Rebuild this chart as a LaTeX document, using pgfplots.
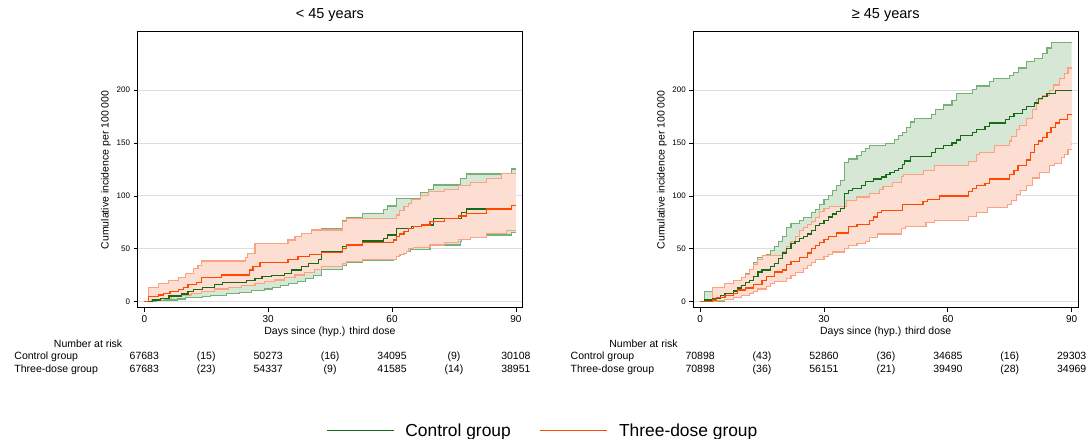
\documentclass[border=0pt]{standalone}
\usepackage{fontspec}
\setmainfont{Liberation Sans}
\usepackage{pgfplots}
\usepackage{pgfplotstable}
\usepgfplotslibrary{fillbetween}
\pgfplotsset{compat=1.18}

\definecolor{gdark}{RGB}{22,108,22}
\definecolor{gci}{RGB}{118,176,118}
\definecolor{gfill}{RGB}{214,231,214}
\definecolor{odark}{RGB}{255,72,0}
\definecolor{oci}{RGB}{250,162,130}
\definecolor{ofill}{RGB}{253,222,210}
\definecolor{gridc}{RGB}{222,222,222}

% ---------- left panel (< 45 years) ----------
\pgfplotstableread{
d v
0 0
2 1.6
4 3.2
6 5.4
9 7.3
10.6 9.5
12 11.7
14 13.5
17 16
19 18
24.8 20
26.8 21.7
28.5 23.5
30.8 25
34 27
35.7 30
38.1 33
39.7 36
42.1 40
43 47
48 52
49 53.6
52.8 57.4
57.9 59.9
58.9 63.1
61 69.4
64.8 71
67.2 72.6
70 78.8
76.9 84.6
78.1 87.7
89 90.8
90 90.8
}\LgE
\pgfplotstableread{
d v
0 0
3 0.8
5 1.6
8 2.5
10 3.5
14 4.8
16 6
20 7.5
23 9
26 10.5
29 12
31 13.5
33 15
35 17
37 19
39 21.5
41 24.5
43 30
48 33.8
49 36.9
52.8 39.4
60.3 41.8
61.1 43.6
62 45.8
63 47.4
64.5 49
69.2 53
70 53.6
76.5 56.8
76.9 58.4
78.9 61
82.9 63.1
89 65.3
90 65.3
}\LgL
\pgfplotstableread{
d v
0 0
2 6
4 10
6 13
8 16
10 19
12 22
14 25
17 29
19 32
25 34
27 36
31 40
34 43
36 46
38 50
40 53
42 57
43 69.4
48 76.9
49 79.8
52.8 83.6
57.9 86.8
58.9 90.5
61 97.8
66.8 103
68.8 105.7
70 110.4
76.5 116.7
78.1 120.8
89 125.5
90 125.5
}\LgU
\pgfplotstableread{
d v
0 0
1 4.8
3.4 6.3
4.6 7.9
6.2 9.5
8.2 11.7
9.4 13.6
10.6 15.9
12.7 18.1
13.9 23.1
18.7 25.2
25.5 30
26.3 33.1
28 37.4
34.8 39.6
37.2 42.6
40 44.5
42.9 46.7
48 50.5
49 53.6
52.8 55.8
60.3 58.4
61.1 61.5
61.9 64
62.9 66.3
63.9 69.4
65.2 71
67.2 72.6
69.2 76
72.8 79
76.1 81
78.1 83.6
82.9 87.7
89 90.8
90 90.8
}\LoE
\pgfplotstableread{
d v
0 0
1.8 1.6
4.2 3.2
6.6 4.8
9 6.3
11.5 7.9
13.9 9.8
17.1 12
20.3 13.6
23.5 15.2
26.8 17.4
29.2 19
31.6 20.5
34 23
36.5 25.2
38.9 27.4
41.3 30
43 33.2
48 36.3
49 37.9
52.8 40.1
61 42.7
61.9 44.2
62.9 45.8
63.5 47.4
64 50.5
65.2 51.5
69.2 53.6
72.8 55.8
76.1 58.4
78.9 61
82.9 64.2
87.7 67.3
90 67.3
}\LoL
\pgfplotstableread{
d v
0 0
1 13.6
3.4 16.8
5.8 19.9
8.2 23
10 27
12 31
13 34
13.9 38.5
24.4 42
25 45.8
26.8 55.2
34.8 58.3
36.5 61.5
38 64.7
40.4 67.8
48 75.7
49 78.8
61.1 82
61.9 86.5
62.9 89.6
63.9 92.7
64.8 97
66.8 100.7
68.8 104
72.8 106.3
76.1 109.7
78.9 112.9
82.9 116.7
86.5 121.5
90 121.5
}\LoU

% ---------- right panel (>= 45 years) ----------
\pgfplotstableread{
d v
0 0
1 1.5
3 3
5 6
6 8
8 10
9 13
10 15
11 18
12 20
13 24
14 28
15 30
17 33
18 36
19 41
20 46
21 50
22 55
23 57
24 60
25 62
26 64
27 67
28 72
29 74
30 77
31 80
32 83
33 85
34 88
35 102
36 105
37 107
39 110
40 114
42 116
44 118
45 120
46 122
47 124
48 126
49 130
49.5 133
51 137
56 141
57 145
59 148
61 150
62 153
63 157
66 160
67 163
69 166
70 169
74 172
75 175
76 178
78 182
79 185
81 188
82 192
83 194
84 197
86 199.4
90 199.4
}\RgE
\pgfplotstableread{
d v
0 0
4 0.5
6 2.5
8 4.5
10 7
12 9
13 11
14 13
16 15
17 18
18 20
21 24
22 28
23 31
25 34
26 37
27 40
28 44
30 48
31 51
32 54
34 58
35 70
38 74
40 77
43 80
45 83
48 88
50 95
52 100
56 104
58 108
61 112
63 116
67 120
70 124
74 128
76 131
79 136
82 142
85 146
88 149
90 150
}\RgL
\pgfplotstableread{
d v
0 0
1 10
4 13
6 17
8 20
10 23
11 27
12 30
13 37
14 42
16 45
17 48
18 52
19 57
20 62
21 70
22 74
24 77
25 80
27 84
28 87
29 92
30 97
31 100
32 105
33 110
34 115
35 132
36 135
38 138
39 142
40 145
41 148
45 150
47 153
48 157
49 160
50 165
51 170
52 173
56 177
57 182
59 186
61 190
62 197
66 201
67 204
70 208
71 211
75 214
76 217
77 221
79 227
81 230
83 235
84 240
85 245
90 245
}\RgU
\pgfplotstableread{
d v
0 0
3 1.5
4 4
6 6
8 8
9 11
11 13
13 16
15 20
16 24
18 28
20 30
21 35
22 38
24 42
26 46
27 50
28 53
29 56
30 59
31 62
33 65
36 71
38 73
41 77
42 80
43 84
44 86
49 92
54 95
55 97
58 100
65 104
66 107
67 110
69 112
70 116
75 120
76 124
77 129
79 134
80 141
81 149
82 152
83 155
84 160
85 165
86 169
87 172
89 177
90 177
}\RoE
\pgfplotstableread{
d v
0 0
4 1
6 2
8 4
10 6
12 8
13 10
14 12
16 14
17 17
18 19
21 22
22 25
23 28
25 31
26 34
27 37
28 40
30 43
31 45
32 47
35 50
36 53
38 55
40 57
41 61
43 64
48.7 68.8
49.8 70.7
54.7 75
56.7 77
64.9 80.9
66.9 84.7
69.7 88.9
74.5 92
75.5 96
76.6 101.6
77.5 105
79 109.5
80.5 117
82.2 122
84.6 128.5
85.8 131
87.5 136.3
88.3 139
89.1 144
90 144
}\RoL
\pgfplotstableread{
d v
0 0
3 13.6
6 17
8 20
10 23
11 26
12 30
13 35
14 40
15 44
20 47
21 52
22 57
23 62
24 67
25 70
26 73
27 76
28 80
29 85
30 88
31.4 90
35.4 96
37.9 99
41.1 102
43.5 106
44.3 109
46.7 113
48.7 118
49.2 120
54 124
56.7 129
64.9 132.5
66.9 139
67.7 141
71.3 148
74.9 152
75.5 156
76.6 163
77.4 167
79 173
80.6 182
81.4 191
83 195
84.7 200
85.5 205
87.1 211
88.3 216
89.1 221
90 221
}\RoU

\newcommand{\tabfont}{\fontsize{10.5bp}{12bp}\selectfont}

\pgfplotsset{
  layers/kmlayers/.define layer set={axis background,axis grid,axis ticks,axis lines,axis tick labels,gfl,gll,ofl,oll,pre main,main,axis descriptions,axis foreground}{/pgfplots/layers/standard},
  km/.style={
    set layers=kmlayers,
    scale only axis, width=384.8bp, height=276.3bp,
    xmin=-1.65, xmax=91.55, ymin=-6, ymax=255.4,
    xtick={0,30,60,90}, ytick={0,50,100,150,200},
    xtick pos=bottom, ytick pos=left,
    tick align=outside, major tick length=4bp,
    every tick/.style={black, line width=0.8bp},
    ymajorgrids, grid style={color=gridc, line width=1bp},
    axis line style={line width=1bp, black},
    clip=false,
    /pgf/number format/assume math mode=true,
    xticklabel style={font=\fontsize{10bp}{12bp}\selectfont},
    yticklabel style={font=\fontsize{8bp}{10bp}\selectfont},
    title style={font=\fontsize{14.5bp}{17bp}\selectfont, at={(axis description cs:0.5,1.0243)}, anchor=base},
    xlabel={Days since (hyp.) third dose},
    every axis x label/.style={at={(axis description cs:0.5,-0.0952)}, anchor=base, font=\fontsize{10.5bp}{12bp}\selectfont},
    ylabel={Cumulative incidence per 100 000},
    every axis y label/.style={at={(axis description cs:-0.0819,0.5)}, rotate=90, anchor=center, font=\fontsize{10.5bp}{12bp}\selectfont},
    legend image code/.code={\draw[#1] (0bp,0bp) -- (67bp,0bp);},
  },
  estg/.style={const plot, gdark, line width=1.2bp},
  esto/.style={const plot, odark, line width=1.2bp},
  cig/.style={const plot, gci, line width=1.1bp, forget plot, on layer=gll},
  cio/.style={const plot, oci, line width=1.1bp, forget plot, on layer=oll},
}

\begin{document}
\begin{tikzpicture}[x=1bp,y=1bp]

% ================= LEFT =================
\begin{axis}[km, at={(137.5bp,131bp)}, anchor=south west, title={< 45 years},
  legend columns=2,
  legend style={at={(axis description cs:0.4899,-0.4441)}, anchor=west, draw=none, fill=none,
    inner sep=0pt, font=\fontsize{17.4bp}{20bp}\selectfont,
    nodes={inner sep=0pt},
    /tikz/every odd column/.append style={column sep=11bp},
    /tikz/every even column/.append style={column sep=29bp}},
  ]
\addplot[const plot, draw=none, name path=gU, forget plot] table[x=d,y=v] {\LgU};
\addplot[const plot, draw=none, name path=gL, forget plot] table[x=d,y=v] {\LgL};
\addplot[gfill, forget plot] fill between[of=gU and gL, on layer=gfl];
\addplot[cig] table[x=d,y=v] {\LgU};
\addplot[cig] table[x=d,y=v] {\LgL};
\addplot[const plot, draw=none, name path=oU, forget plot] table[x=d,y=v] {\LoU};
\addplot[const plot, draw=none, name path=oL, forget plot] table[x=d,y=v] {\LoL};
\addplot[ofill, forget plot] fill between[of=oU and oL, on layer=ofl];
\addplot[cio] table[x=d,y=v] {\LoU};
\addplot[cio] table[x=d,y=v] {\LoL};
\addplot[estg] table[x=d,y=v] {\LgE};
\addplot[esto] table[x=d,y=v] {\LoE};
\legend{Control group, Three-dose group}
% number at risk
\node[anchor=base east, font=\tabfont] at (axis cs:-4.5,-43.1) {Number at risk};
\node[anchor=base west, font=\tabfont] at (axis cs:-32.3,-55.2) {Control group};
\node[anchor=base west, font=\tabfont] at (axis cs:-32.3,-67.2) {Three-dose group};
\node[anchor=base, font=\tabfont] at (axis cs:0,-55.2) {67683};
\node[anchor=base, font=\tabfont] at (axis cs:15,-55.2) {(15)};
\node[anchor=base, font=\tabfont] at (axis cs:30,-55.2) {50273};
\node[anchor=base, font=\tabfont] at (axis cs:45,-55.2) {(16)};
\node[anchor=base, font=\tabfont] at (axis cs:60,-55.2) {34095};
\node[anchor=base, font=\tabfont] at (axis cs:75,-55.2) {(9)};
\node[anchor=base, font=\tabfont] at (axis cs:90,-55.2) {30108};
\node[anchor=base, font=\tabfont] at (axis cs:0,-67.2) {67683};
\node[anchor=base, font=\tabfont] at (axis cs:15,-67.2) {(23)};
\node[anchor=base, font=\tabfont] at (axis cs:30,-67.2) {54337};
\node[anchor=base, font=\tabfont] at (axis cs:45,-67.2) {(9)};
\node[anchor=base, font=\tabfont] at (axis cs:60,-67.2) {41585};
\node[anchor=base, font=\tabfont] at (axis cs:75,-67.2) {(14)};
\node[anchor=base, font=\tabfont] at (axis cs:90,-67.2) {38951};
\end{axis}

% ================= RIGHT =================
\begin{axis}[km, at={(693.3bp,131bp)}, anchor=south west, title={≥ 45 years}]
\addplot[const plot, draw=none, name path=gU, forget plot] table[x=d,y=v] {\RgU};
\addplot[const plot, draw=none, name path=gL, forget plot] table[x=d,y=v] {\RgL};
\addplot[gfill, forget plot] fill between[of=gU and gL, on layer=gfl];
\addplot[cig] table[x=d,y=v] {\RgU};
\addplot[cig] table[x=d,y=v] {\RgL};
\addplot[const plot, draw=none, name path=oU, forget plot] table[x=d,y=v] {\RoU};
\addplot[const plot, draw=none, name path=oL, forget plot] table[x=d,y=v] {\RoL};
\addplot[ofill, forget plot] fill between[of=oU and oL, on layer=ofl];
\addplot[cio] table[x=d,y=v] {\RoU};
\addplot[cio] table[x=d,y=v] {\RoL};
\addplot[estg] table[x=d,y=v] {\RgE};
\addplot[esto] table[x=d,y=v] {\RoE};
\node[anchor=base east, font=\tabfont] at (axis cs:-4.6,-43.1) {Number at risk};
\node[anchor=base west, font=\tabfont] at (axis cs:-32.2,-55.2) {Control group};
\node[anchor=base west, font=\tabfont] at (axis cs:-32.2,-67.2) {Three-dose group};
\node[anchor=base, font=\tabfont] at (axis cs:0,-55.2) {70898};
\node[anchor=base, font=\tabfont] at (axis cs:15,-55.2) {(43)};
\node[anchor=base, font=\tabfont] at (axis cs:30,-55.2) {52860};
\node[anchor=base, font=\tabfont] at (axis cs:45,-55.2) {(36)};
\node[anchor=base, font=\tabfont] at (axis cs:60,-55.2) {34685};
\node[anchor=base, font=\tabfont] at (axis cs:75,-55.2) {(16)};
\node[anchor=base, font=\tabfont] at (axis cs:90,-55.2) {29303};
\node[anchor=base, font=\tabfont] at (axis cs:0,-67.2) {70898};
\node[anchor=base, font=\tabfont] at (axis cs:15,-67.2) {(36)};
\node[anchor=base, font=\tabfont] at (axis cs:30,-67.2) {56151};
\node[anchor=base, font=\tabfont] at (axis cs:45,-67.2) {(21)};
\node[anchor=base, font=\tabfont] at (axis cs:60,-67.2) {39490};
\node[anchor=base, font=\tabfont] at (axis cs:75,-67.2) {(28)};
\node[anchor=base, font=\tabfont] at (axis cs:90,-67.2) {34969};
\end{axis}
\pgfresetboundingbox
\useasboundingbox (0,0) rectangle (1089,439);
\end{tikzpicture}
\end{document}
